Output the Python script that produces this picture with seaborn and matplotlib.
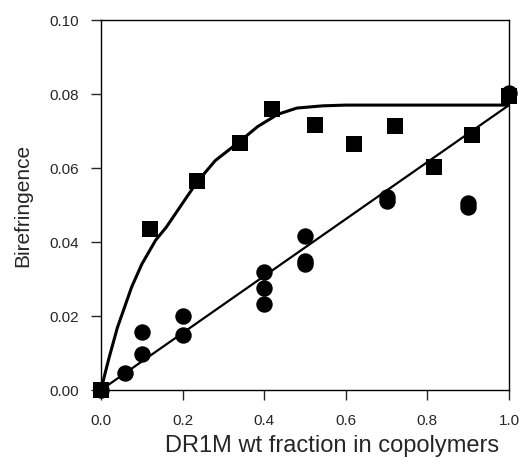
import numpy as np
import pandas as pd
import seaborn as sns
import matplotlib.pyplot as plt

# measured points (squares)
sq_x = [0.0, 0.12, 0.235, 0.34, 0.42, 0.525, 0.62, 0.72, 0.815, 0.91, 1.0]
sq_y = [0.0, 0.0435, 0.0565, 0.0667, 0.0760, 0.0716, 0.0665, 0.0714, 0.0603, 0.0690, 0.0795]

# measured points (circles)
ci_x = [0.0, 0.06, 0.10, 0.10, 0.20, 0.20, 0.40, 0.40, 0.40, 0.50, 0.50, 0.50,
        0.70, 0.70, 0.90, 0.90, 1.0]
ci_y = [0.0, 0.0045, 0.0097, 0.0156, 0.0148, 0.0200, 0.0318, 0.0275, 0.0232,
        0.0416, 0.0350, 0.0340, 0.0522, 0.0510, 0.0505, 0.0495, 0.0802]

# fitted curve through squares
fit_x = [0.0, 0.01, 0.02, 0.04, 0.075, 0.10, 0.134, 0.16, 0.20, 0.234, 0.28,
         0.338, 0.384, 0.433, 0.48, 0.543, 0.60, 1.0]
fit_y = [0.0, 0.0045, 0.0088, 0.0168, 0.0278, 0.0340, 0.0405, 0.0440, 0.0505,
         0.0560, 0.0620, 0.0670, 0.0712, 0.0745, 0.0762, 0.0768, 0.0770, 0.0770]

# straight line through circles
lin_x = [0.0, 1.0]
lin_y = [0.0, 0.0770]

sns.set_style("ticks")
plt.rcParams["font.family"] = ["Liberation Sans", "DejaVu Sans"]

fig = plt.figure(figsize=(5.21, 4.58), dpi=100)
ax = fig.add_axes([101 / 521, 68 / 458, 408 / 521, 370 / 458])

sns.lineplot(x=fit_x, y=fit_y, ax=ax, color="black", linewidth=2.2, sort=False)
sns.lineplot(x=lin_x, y=lin_y, ax=ax, color="black", linewidth=1.6, sort=False)
sns.scatterplot(x=sq_x, y=sq_y, ax=ax, marker="s", s=120, color="black",
                edgecolor="black", linewidth=0, zorder=5, clip_on=False)
sns.scatterplot(x=ci_x, y=ci_y, ax=ax, marker="o", s=140, color="black",
                edgecolor="black", linewidth=0, zorder=5, clip_on=False)

ax.set_xlim(0, 1.0)
ax.set_ylim(0, 0.10)
ax.set_xticks([0.0, 0.2, 0.4, 0.6, 0.8, 1.0])
ax.set_yticks([0.0, 0.02, 0.04, 0.06, 0.08, 0.10])
ax.set_xticklabels(["0.0", "0.2", "0.4", "0.6", "0.8", "1.0"])
ax.set_yticklabels(["0.00", "0.02", "0.04", "0.06", "0.08", "0.10"])
ax.tick_params(axis="both", direction="out", length=7, width=1, labelsize=11)
ax.tick_params(axis="x", pad=10)
ax.tick_params(axis="y", pad=9)

for sp in ax.spines.values():
    sp.set_linewidth(1)
    sp.set_color("black")

ax.set_xlabel("DR1M wt fraction in copolymers", fontsize=17)
ax.xaxis.set_label_coords(0.566, -0.122)
ax.set_ylabel("Birefringence", fontsize=15, labelpad=12)

plt.savefig("out.png", dpi=100)
plt.close()
